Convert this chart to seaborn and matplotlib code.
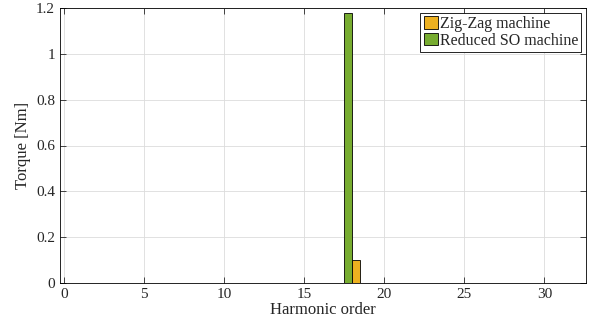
import matplotlib
matplotlib.use("Agg")
import matplotlib.pyplot as plt
import seaborn as sns
import pandas as pd
from matplotlib.ticker import FuncFormatter

harmonics = [18]
zigzag = [0.1]
reduced_so = [1.18]
series_names = ["Reduced SO machine", "Zig-Zag machine"]
colors = {"Zig-Zag machine": "#EDB120", "Reduced SO machine": "#77AC30"}

df = pd.DataFrame({
    "Harmonic order": harmonics * 2,
    "Torque [Nm]": reduced_so + zigzag,
    "Machine": [series_names[0]] * len(harmonics) + [series_names[1]] * len(harmonics),
})

sns.set_style("ticks")
plt.rcParams["font.family"] = ["Liberation Serif", "DejaVu Serif"]
plt.rcParams["mathtext.fontset"] = "stix"

fig = plt.figure(figsize=(5.98, 3.28), dpi=100)
ax = fig.add_axes([60/598, 45/328, 526/598, 275/328])

sns.barplot(data=df, x="Harmonic order", y="Torque [Nm]", hue="Machine",
            hue_order=series_names, palette=colors, native_scale=True,
            width=1.0, edgecolor="black", linewidth=0.6, ax=ax, errorbar=None,
            saturation=1)

ax.set_xlim(-0.25, 32.6)
ax.set_ylim(0, 1.2)
ax.set_xticks([0, 5, 10, 15, 20, 25, 30])
ax.set_yticks([0, 0.2, 0.4, 0.6, 0.8, 1.0, 1.2])
ax.yaxis.set_major_formatter(FuncFormatter(lambda v, p: f"{v:g}"))
ax.grid(True, color="#dcdcdc", linewidth=0.6)
ax.set_axisbelow(True)
ax.tick_params(direction="in", top=True, right=True, labelsize=11, length=4, width=0.6)
for s in ax.spines.values():
    s.set_linewidth(0.6)
    s.set_color("black")
ax.set_xlabel("Harmonic order", fontsize=12, labelpad=1)
ax.set_ylabel("Torque [Nm]", fontsize=12, labelpad=4)

handles, labels = ax.get_legend_handles_labels()
order = [labels.index("Zig-Zag machine"), labels.index("Reduced SO machine")]
leg = ax.legend([handles[i] for i in order], [labels[i] for i in order],
                loc="upper right", fontsize=11.5, frameon=True, fancybox=False,
                edgecolor="black", framealpha=1, borderpad=0.2, handlelength=0.9,
                handleheight=0.8, handletextpad=0.1, labelspacing=0.05,
                borderaxespad=0.3, title=None)
leg.get_frame().set_linewidth(0.6)

fig.savefig("out.png", dpi=100)
